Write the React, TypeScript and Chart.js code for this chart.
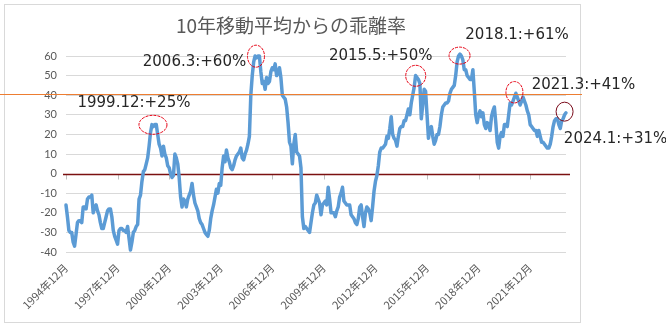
import { useEffect, useRef } from 'react';
import { Chart, registerables } from 'chart.js';

Chart.register(...registerables);

const TITLE = '10年移動平均からの乖離率';
const START_YEAR = 1994;
const START_MONTH = 12;
const TICK_EVERY = 36;
const Y_MIN = -40;
const Y_MAX = 60;
const Y_STEP = 10;
const REF_LINE_VALUE = 40.7;

// monthly deviation (%) from 10-year moving average, 1994/12 .. 2024/1
const DEVIATION = [
  -16, -22, -29, -30, -30, -35, -37, -31, -25, -24, -24, -25,
  -17, -17, -18, -13, -12, -12, -11, -20, -17, -16, -19, -21,
  -25, -28, -28, -25, -22, -19, -18, -18, -22, -29, -32, -34,
  -36, -29, -28, -28, -29, -29, -30, -27, -33, -39, -35, -30,
  -29, -27, -26, -13, -11, -4, 1, 2, 5, 8, 14, 21,
  25, 24, 25, 25, 20, 15, 13, 9, 14, 10, 8, 4,
  3, 0, -2, -1, 10, 8, 5, -2, -12, -17, -13, -14,
  -17, -13, -11, -9, -5, -11, -15, -17, -19, -23, -25, -26,
  -28, -30, -31, -32, -29, -23, -19, -16, -12, -8, -10, -5,
  -6, 3, 9, 6, 12, 8, 6, 3, 2, 4, 7, 9,
  10, 11, 13, 8, 7, 10, 12, 15, 19, 40, 50, 57,
  60, 59, 60, 60, 52, 46, 47, 43, 49, 46, 47, 52,
  54, 53, 56, 50, 51, 54, 49, 40, 39, 38, 34, 26,
  16, 14, 5, 15, 20, 11, 10, 9, 3, -22, -28, -27,
  -28, -29, -30, -25, -20, -16, -15, -11, -13, -15, -21, -16,
  -15, -14, -16, -7, -13, -20, -20, -20, -22, -19, -17, -12,
  -10, -7, -14, -15, -16, -16, -16, -21, -22, -23, -25, -26,
  -23, -17, -16, -22, -27, -20, -17, -18, -20, -24, -17, -9,
  -4, -1, 4, 11, 13, 13, 14, 15, 19, 18, 23, 29,
  20, 18, 17, 14, 19, 23, 24, 24, 27, 27, 30, 33,
  30, 36, 40, 44, 50, 49, 48, 46, 28, 35, 43, 42,
  30, 18, 23, 24, 19, 15, 17, 20, 20, 24, 30, 34,
  35, 36, 36, 37, 41, 43, 44, 45, 50, 57, 60, 61,
  60, 58, 53, 53, 50, 49, 48, 48, 53, 42, 30, 26,
  30, 32, 29, 31, 25, 23, 26, 25, 22, 29, 32, 34,
  26, 16, 13, 19, 21, 19, 25, 25, 24, 30, 36, 35,
  37, 39, 41, 39, 37, 35, 37, 39, 37, 35, 32, 30,
  25, 24, 23, 22, 22, 19, 22, 19, 16, 16, 15, 14,
  13, 13, 15, 19, 24, 27, 28, 28, 25, 23, 27, 28,
  30, 31,
];

const LABELS = DEVIATION.map((_, i) => {
  const m = START_MONTH - 1 + i;
  return `${START_YEAR + Math.floor(m / 12)}年${(m % 12) + 1}月`;
});

// peak annotations
const PEAK_TEXT = ['1999.12:+25%', '2006.3:+60%', '2015.5:+50%', '2018.1:+61%', '2021.3:+41%', '2024.1:+31%'];
const PEAK_INDEX = [60.7, 132.6, 244.1, 274.7, 313.0, 348.0];
const PEAK_VALUE = [24.9, 59.9, 49.9, 60.2, 41.5, 31.6];

// styling of the annotations (offsets / radii in px)
const PEAK_STYLE = [
  { dx: -19, dy: -21.5, rx: 14, ry: 9.5, color: '#E60012', dash: true },
  { dx: -61.5, dy: 6, rx: 8.5, ry: 11, color: '#E60012', dash: true },
  { dx: -35, dy: -19.5, rx: 10, ry: 10.5, color: '#E60012', dash: true },
  { dx: 57.5, dy: -20.5, rx: 10.5, ry: 8.5, color: '#E60012', dash: true },
  { dx: 69, dy: -7, rx: 8.5, ry: 10.7, color: '#E60012', dash: true },
  { dx: 51, dy: 27.5, rx: 8.5, ry: 9.5, color: '#7B0C1C', dash: false },
];

const framePlugin = {
  id: 'frame',
  beforeDraw(chart: any) {
    const { ctx } = chart;
    ctx.save();
    ctx.fillStyle = '#ffffff';
    ctx.fillRect(0, 0, chart.width, chart.height);
    ctx.strokeStyle = '#D9D9D9';
    ctx.lineWidth = 1;
    ctx.strokeRect(4.5, 4.5, 576, 318);
    ctx.fillStyle = '#595959';
    ctx.font = '19px "Noto Sans CJK JP"';
    ctx.textAlign = 'center';
    ctx.textBaseline = 'middle';
    ctx.fillText(TITLE, 291, 26);
    ctx.restore();
  },
  beforeDatasetsDraw(chart: any) {
    const { ctx, chartArea } = chart;
    const x = chart.scales.x;
    const y = chart.scales.y;
    const y0 = Math.round(y.getPixelForValue(0)) + 0.5;
    ctx.save();
    ctx.strokeStyle = '#BFBFBF';
    ctx.lineWidth = 1;
    for (let i = 0; i < DEVIATION.length; i += TICK_EVERY) {
      const px = Math.round(x.getPixelForValue(i)) + 0.5;
      ctx.beginPath();
      ctx.moveTo(px, y0);
      ctx.lineTo(px, y0 + 5);
      ctx.stroke();
    }
    ctx.strokeStyle = '#7B1010';
    ctx.lineWidth = 1.5;
    ctx.beginPath();
    ctx.moveTo(chartArea.left - 3, y0);
    ctx.lineTo(chartArea.right + 4, y0);
    ctx.stroke();
    ctx.restore();
  },
  afterDatasetsDraw(chart: any) {
    const { ctx } = chart;
    const x = chart.scales.x;
    const y = chart.scales.y;
    ctx.save();
    // orange reference line
    const yr = Math.round(y.getPixelForValue(REF_LINE_VALUE)) + 0.5;
    ctx.strokeStyle = '#ED7D31';
    ctx.lineWidth = 1;
    ctx.beginPath();
    ctx.moveTo(0, yr);
    ctx.lineTo(582, yr);
    ctx.stroke();
    // peak annotations
    ctx.font = '15px "DejaVu Sans"';
    ctx.textAlign = 'center';
    ctx.textBaseline = 'middle';
    PEAK_TEXT.forEach((t, k) => {
      const s = PEAK_STYLE[k];
      const cx = x.getPixelForValue(PEAK_INDEX[k]);
      const cy = y.getPixelForValue(PEAK_VALUE[k]);
      ctx.strokeStyle = s.color;
      ctx.lineWidth = 1;
      ctx.setLineDash(s.dash ? [3, 1] : []);
      ctx.beginPath();
      ctx.ellipse(cx, cy, s.rx, s.ry, 0, 0, Math.PI * 2);
      ctx.stroke();
      ctx.setLineDash([]);
      ctx.fillStyle = '#262626';
      ctx.fillText(t, cx + s.dx, cy + s.dy);
    });
    ctx.restore();
  },
};

export default function App() {
  const ref = useRef<HTMLCanvasElement>(null);
  useEffect(() => {
    const chart = new Chart(ref.current!, {
      type: 'line',
      data: {
        labels: LABELS,
        datasets: [
          {
            data: DEVIATION,
            borderColor: '#5B9BD5',
            borderWidth: 3.5,
            pointRadius: 0,
            tension: 0,
            borderJoinStyle: 'round',
            borderCapStyle: 'round',
            clip: false,
          } as any,
        ],
      },
      options: {
        animation: false,
        responsive: false,
        layout: { padding: { left: 10, right: 100, top: 56, bottom: 0 } },
        plugins: { legend: { display: false }, tooltip: { enabled: false }, title: { display: false } },
        scales: {
          x: {
            type: 'category',
            grid: { display: false, drawTicks: false },
            border: { display: false },
            afterFit: (s: any) => { s.height = 73; },
            ticks: {
              autoSkip: false,
              minRotation: 45,
              maxRotation: 45,
              padding: 9,
              color: '#595959',
              font: { family: '"Noto Sans CJK JP"', size: 11 },
              callback: (_v: any, i: number) => (i % TICK_EVERY === 0 ? LABELS[i] : null),
            },
          },
          y: {
            min: Y_MIN,
            max: Y_MAX,
            afterFit: (s: any) => { s.width = 56; },
            grid: {
              drawTicks: false,
              color: (c: any) => (c.tick && c.tick.value === 0 ? 'rgba(0,0,0,0)' : '#D9D9D9'),
            },
            border: { display: false },
            ticks: {
              stepSize: Y_STEP,
              padding: 9,
              color: '#595959',
              font: { family: 'Lato', size: 11 },
            },
          },
        },
      },
      plugins: [framePlugin],
    } as any);
    return () => chart.destroy();
  }, []);
  return (
    <div style={{ position: 'absolute', left: 0, top: 0, width: 666, height: 325 }}>
      <canvas ref={ref} width={666} height={325} style={{ display: 'block', width: 666, height: 325 }} />
    </div>
  );
}
